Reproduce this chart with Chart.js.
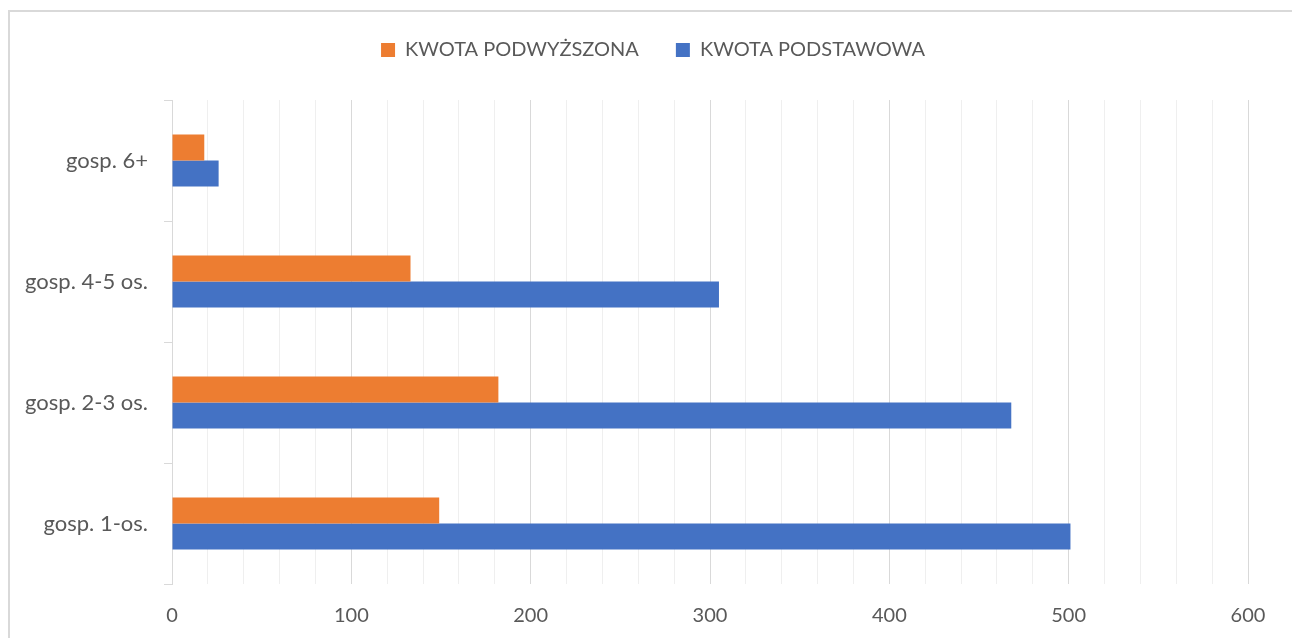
<!DOCTYPE html>
<html lang="pl">
<head>
  <meta charset="UTF-8">
  <title>Kwota podstawowa i podwyższona</title>
  <script src="https://cdn.jsdelivr.net/npm/chart.js"></script>
  <style>
    body { margin: 0; background: #fff; }
    .wrap { position: relative; width: 1292px; height: 638px; overflow: hidden; }
    .frame { position: absolute; left: 8px; top: 10px; width: 1300px; height: 700px; border-top: 2px solid #d9d9d9; border-left: 2px solid #d9d9d9; }
    canvas { position: absolute; left: 0; top: 0; }
  </style>
</head>
<body>
  <div class="wrap">
    <div class="frame"></div>
    <canvas id="chart" width="1292" height="638"></canvas>
  </div>
  <script>
    // dane
    const categories = ['gosp. 6+', 'gosp. 4-5 os.', 'gosp. 2-3 os.', 'gosp. 1-os.'];
    const kwotaPodwyzszona = [18, 133, 182, 149];
    const kwotaPodstawowa = [26, 305, 468, 501];
    const xTicks = [0, 100, 200, 300, 400, 500, 600];

    const textColor = '#595959';
    const fontFamily = 'Lato, "Open Sans", sans-serif';

    // legenda: stała wysokość i lekkie przesunięcie w prawo / w dół
    const legendPlace = {
      id: 'legendPlace',
      beforeInit(chart) {
        const fit = chart.legend.fit;
        chart.legend.fit = function () {
          fit.call(this);
          this.height = 100;
        };
      },
      afterLayout(chart) {
        const lg = chart.legend;
        lg.left += 29;
        lg.right += 29;
        lg.top += 3;
      }
    };

    new Chart(document.getElementById('chart'), {
      type: 'bar',
      data: {
        labels: categories,
        datasets: [
          { label: 'KWOTA PODWYŻSZONA', data: kwotaPodwyzszona, backgroundColor: '#ED7D31' },
          { label: 'KWOTA PODSTAWOWA', data: kwotaPodstawowa, backgroundColor: '#4472C4' }
        ]
      },
      options: {
        indexAxis: 'y',
        responsive: false,
        animation: false,
        categoryPercentage: 0.43,
        barPercentage: 1,
        layout: { padding: { left: 0, right: 44, top: 0, bottom: 0 } },
        plugins: {
          tooltip: { enabled: false },
          legend: {
            position: 'top',
            labels: {
              color: textColor,
              font: { family: fontFamily, size: 20 },
              boxWidth: 14,
              boxHeight: 14,
              padding: 37
            }
          }
        },
        scales: {
          x: {
            min: 0,
            max: 600,
            afterBuildTicks(scale) {
              const t = [];
              for (let v = 0; v <= 600; v += 20) t.push({ value: v });
              scale.ticks = t;
            },
            afterFit(scale) { scale.height = 54; },
            ticks: {
              autoSkip: false,
              maxRotation: 0,
              padding: 20,
              color: textColor,
              font: { family: fontFamily, size: 20 },
              callback: v => xTicks.includes(v) ? v : ''
            },
            grid: {
              drawTicks: false,
              color: ctx => (ctx.tick && xTicks.includes(ctx.tick.value)) ? '#d9d9d9' : '#efefef',
              lineWidth: 1
            },
            border: { display: false }
          },
          y: {
            afterFit(scale) { scale.width = 172; },
            ticks: {
              padding: 16,
              color: textColor,
              font: { family: fontFamily, size: 22 }
            },
            grid: {
              offset: true,
              drawOnChartArea: false,
              drawTicks: true,
              tickLength: 8,
              color: '#d9d9d9'
            },
            border: { display: true, color: '#d9d9d9', width: 1 }
          }
        }
      },
      plugins: [legendPlace]
    });
  </script>
</body>
</html>
